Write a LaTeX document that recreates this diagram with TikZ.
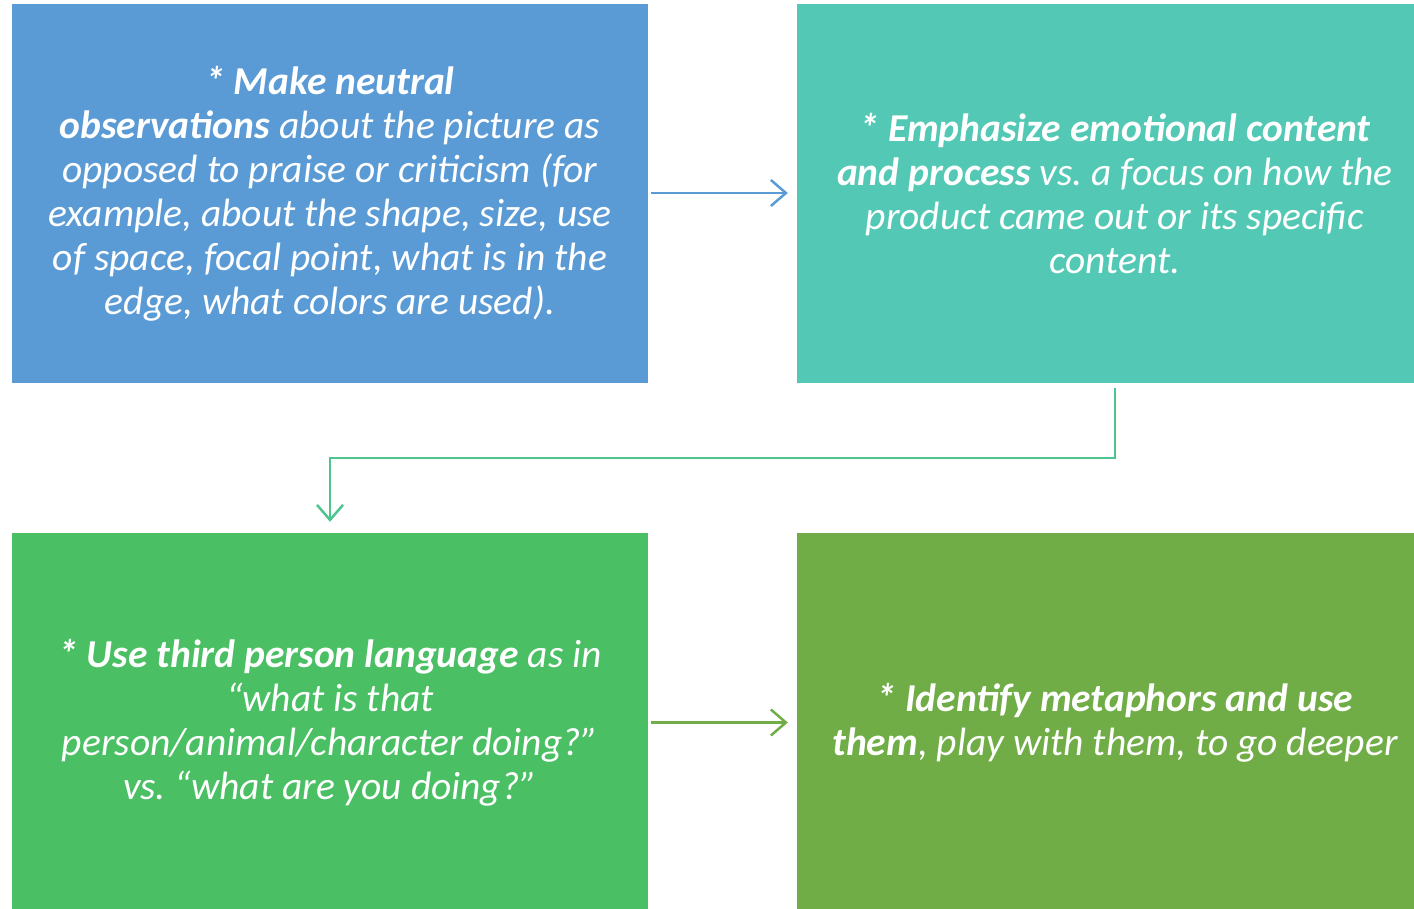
\documentclass[tikz,border=0pt]{standalone}
\usepackage{fontspec}
\setmainfont{Carlito}
\usetikzlibrary{arrows.meta}
\frenchspacing

\definecolor{boxblue}{HTML}{5B9BD5}
\definecolor{boxteal}{HTML}{53C9B5}
\definecolor{boxgreen}{HTML}{4ABF63}
\definecolor{boxolive}{HTML}{70AD47}
\definecolor{linkteal}{HTML}{4CC68E}

\begin{document}
\begin{tikzpicture}[x = 1pt, y = -1pt,
	 tipbox/.style = {inner sep = 0pt, minimum width = 636pt, minimum height = 379pt, text = white, align = center, font = \fontsize{39.5}{44}\selectfont\itshape},
	 link/.style = {line width = 2.5pt, -{Straight Barb[length = 15pt, width = 26pt, line width = 2.5pt]}}]
	 \useasboundingbox (0, 0) rectangle (1414, 908);
	 
	 \node[tipbox, fill = boxblue] (observe) at (330, 193.5) {\textbf{* Make neutral}\\ \textbf{observations} about the picture as\\ opposed to praise or criticism (for\\ example, about the shape, size, use\\ of space, focal point, what is in the\\ edge, what colors are used).};
	 \node[tipbox, fill = boxteal] (emotion) at (1115, 193.5) {\textbf{* Emphasize emotional content}\\ \textbf{and process} vs. a focus on how the\\ product came out or its specific\\ content.};
	 \node[tipbox, fill = boxgreen] (third) at (330, 722.5) {\textbf{* Use third person language} as in\\ “what is that\\ person/animal/character doing?”\\ vs. “what are you doing?”};
	 \node[tipbox, fill = boxolive] (metaphor) at (1115, 722.5) {\textbf{* Identify metaphors and use}\\ \textbf{them}, play with them, to go deeper};
	 
	 \draw[link, boxblue, shorten < = 3pt, shorten > = 9pt] (observe.east |- 0, 193) -- (emotion.west |- 0, 193);
	 \draw[link, linkteal, shorten < = 5pt, shorten > = 11pt] (emotion.south) -- ++(0, 75) -| (third.north);
	 \draw[link, boxolive, shorten < = 3pt, shorten > = 9pt] (third.east) -- (metaphor.west);
\end{tikzpicture}
\end{document}
